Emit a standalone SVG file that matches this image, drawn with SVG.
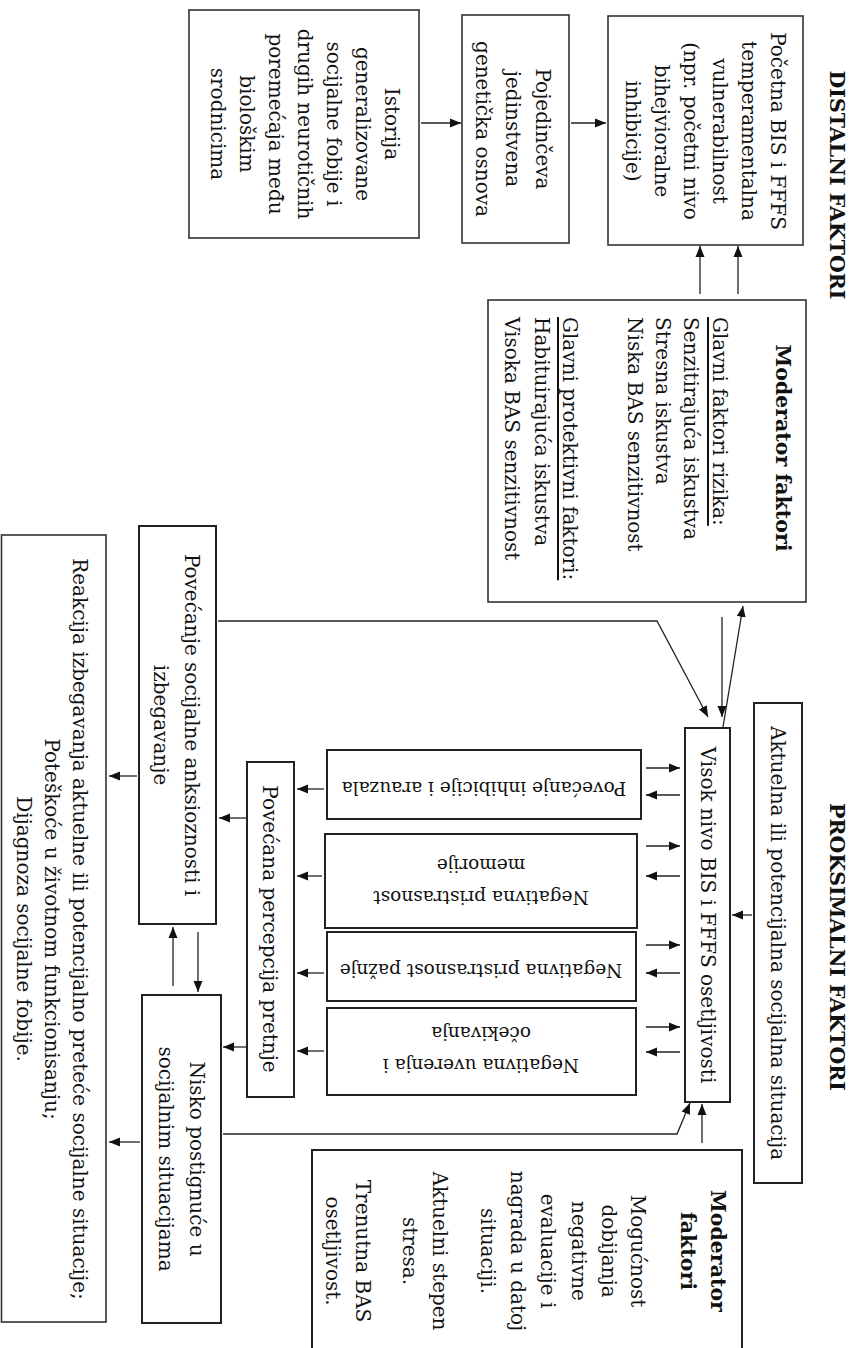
<svg xmlns="http://www.w3.org/2000/svg" width="858" height="1348" viewBox="0 0 858 1348">
<defs>
<marker id="ah" markerUnits="userSpaceOnUse" markerWidth="12" markerHeight="10" refX="11" refY="5" orient="auto">
<path d="M0,0.5 L11,5 L0,9.5 z" fill="#111"/>
</marker>
</defs>
<style>
.box{fill:#fff;stroke:#333;stroke-width:1.6}
.ibox{fill:#fff;stroke:#222;stroke-width:2}
.t{font-family:"DejaVu Serif",serif;font-size:20px;fill:#111;text-anchor:middle;dominant-baseline:central}
.ts{font-family:"DejaVu Serif",serif;font-size:20px;fill:#111;text-anchor:start;dominant-baseline:central}
.b{font-weight:bold;font-size:20.5px}
.ul{text-decoration:underline}
.u{font-family:"DejaVu Serif",serif;font-size:18.5px;fill:#111;text-anchor:middle;dominant-baseline:central}
.c{fill:none;stroke:#222;stroke-width:1.3;marker-end:url(#ah)}
</style>
<rect width="858" height="1348" fill="#fff"/>

<g id="title-distal">
<text class="t b" transform="translate(837,185) rotate(90)">DISTALNI FAKTORI</text>
</g>
<g id="title-proximal">
<text class="t b" transform="translate(837,947) rotate(90)">PROKSIMALNI FAKTORI</text>
</g>

<g id="istorija">
<rect class="box" x="189" y="10" width="230" height="228"/>
<text class="t" transform="translate(392,124) rotate(90)">Istorija</text>
<text class="t" transform="translate(363,124) rotate(90)">generalizovane</text>
<text class="t" transform="translate(334,124) rotate(90)">socijalne fobije i</text>
<text class="t" transform="translate(305,124) rotate(90)">drugih neurotičnih</text>
<text class="t" transform="translate(276,124) rotate(90)">poremećaja među</text>
<text class="t" transform="translate(247,124) rotate(90)">biološkim</text>
<text class="t" transform="translate(218,124) rotate(90)">srodnicima</text>
</g>

<g id="pojedinceva">
<rect class="box" x="462" y="15" width="107" height="228"/>
<text class="t" transform="translate(543,129) rotate(90)">Pojedinčeva</text>
<text class="t" transform="translate(513,129) rotate(90)">jedinstvena</text>
<text class="t" transform="translate(483,129) rotate(90)">genetička osnova</text>
</g>

<g id="pocetna">
<rect class="box" x="608" y="16" width="195" height="229"/>
<text class="t" transform="translate(778,131) rotate(90)">Početna BIS i FFFS</text>
<text class="t" transform="translate(749,131) rotate(90)">temperamentalna</text>
<text class="t" transform="translate(720,131) rotate(90)">vulnerabilnost</text>
<text class="t" transform="translate(691,131) rotate(90)">(npr. početni nivo</text>
<text class="t" transform="translate(662,131) rotate(90)">bihejvioralne</text>
<text class="t" transform="translate(633,131) rotate(90)">inhibicije)</text>
</g>

<g id="moderator-distal">
<rect class="box" x="488" y="300" width="318" height="302"/>
<text class="t b" transform="translate(783,448) rotate(90)">Moderator faktori</text>
<text class="ts ul" transform="translate(720,317) rotate(90)">Glavni faktori rizika:</text>
<text class="ts" transform="translate(691,317) rotate(90)">Senzitirajuća iskustva</text>
<text class="ts" transform="translate(663,317) rotate(90)">Stresna iskustva</text>
<text class="ts" transform="translate(635,317) rotate(90)">Niska BAS senzitivnost</text>
<text class="ts ul" transform="translate(570,317) rotate(90)">Glavni protektivni faktori:</text>
<text class="ts" transform="translate(542,317) rotate(90)">Habituirajuća iskustva</text>
<text class="ts" transform="translate(512,317) rotate(90)">Visoka BAS senzitivnost</text>
</g>

<g id="aktuelna">
<rect class="ibox" x="754" y="703" width="48" height="480"/>
<text class="t" transform="translate(778,943) rotate(90)">Aktuelna ili potencijalna socijalna situacija</text>
</g>

<g id="visok">
<rect class="ibox" x="685" y="728" width="45" height="374"/>
<text class="t" transform="translate(708,915) rotate(90)">Visok nivo BIS i FFFS osetljivosti</text>
</g>

<g id="moderator-proximal">
<rect class="ibox" x="312" y="1150" width="430" height="210"/>
<text class="t b" transform="translate(718,1251) rotate(90)">Moderator</text>
<text class="t b" transform="translate(688,1251) rotate(90)">faktori</text>
<text class="t" transform="translate(638,1251) rotate(90)">Mogućnost</text>
<text class="t" transform="translate(609,1251) rotate(90)">dobijanja</text>
<text class="t" transform="translate(579,1251) rotate(90)">negativne</text>
<text class="t" transform="translate(548,1251) rotate(90)">evaluacije i</text>
<text class="t" transform="translate(518,1251) rotate(90)">nagrada u datoj</text>
<text class="t" transform="translate(488,1251) rotate(90)">situaciji.</text>
<text class="t" transform="translate(440,1251) rotate(90)">Aktuelni stepen</text>
<text class="t" transform="translate(410,1251) rotate(90)">stresa.</text>
<text class="t" transform="translate(363,1251) rotate(90)">Trenutna BAS</text>
<text class="t" transform="translate(333,1251) rotate(90)">osetljivost.</text>
</g>

<g id="inhibicija">
<rect class="ibox" x="327" y="750" width="314" height="69"/>
<text class="u" transform="translate(484,788) rotate(180)">Povećanje inhibicije i arauzala</text>
</g>

<g id="memorija">
<rect class="ibox" x="325" y="834" width="312" height="94"/>
<text class="u" transform="translate(481,897) rotate(180)">Negativna pristrasnost</text>
<text class="u" transform="translate(481,865) rotate(180)">memorije</text>
</g>

<g id="paznja">
<rect class="ibox" x="327" y="932" width="309" height="69"/>
<text class="u" transform="translate(481,970) rotate(180)">Negativna pristrasnost pažnje</text>
</g>

<g id="uverenja">
<rect class="ibox" x="327" y="1008" width="309" height="87"/>
<text class="u" transform="translate(481,1065) rotate(180)">Negativna uverenja i</text>
<text class="u" transform="translate(481,1033) rotate(180)">očekivanja</text>
</g>

<g id="percepcija">
<rect class="ibox" x="247" y="762" width="47" height="335"/>
<text class="t" transform="translate(270,929) rotate(90)">Povećana percepcija pretnje</text>
</g>

<g id="anksioznost">
<rect class="ibox" x="139" y="526" width="77" height="398"/>
<text class="t" transform="translate(192,725) rotate(90)">Povećanje socijalne anksioznosti i</text>
<text class="t" transform="translate(161,725) rotate(90)">izbegavanje</text>
</g>

<g id="nisko">
<rect class="ibox" x="142" y="995" width="79" height="328"/>
<text class="t" transform="translate(197,1159) rotate(90)">Nisko postignuće u</text>
<text class="t" transform="translate(166,1159) rotate(90)">socijalnim situacijama</text>
</g>

<g id="reakcija">
<rect class="box" x="1.5" y="535" width="104.5" height="787"/>
<text class="t" transform="translate(80,929) rotate(90)">Reakcija izbegavanja aktuelne ili potencijalno preteće socijalne situacije;</text>
<text class="t" transform="translate(52,929) rotate(90)">Poteškoće u životnom funkcionisanju;</text>
<text class="t" transform="translate(24,929) rotate(90)">Dijagnoza socijalne fobije.</text>
</g>

<g id="connectors">
<path class="c" d="M421,123 H461"/>
<path class="c" d="M571,123 H606"/>
<path class="c" d="M700,294 V246"/>
<path class="c" d="M738,294 V246"/>
<path class="c" d="M722,617 V717"/>
<path class="c" d="M723,727 L743,606"/>
<path class="c" d="M218,621 H657 L708,717"/>
<path class="c" d="M223,1134 H677 L690,1103"/>
<path class="c" d="M752,915 H732"/>
<path class="c" d="M702,1143 V1104"/>
<path class="c" d="M646,768 H680"/>
<path class="c" d="M680,795 H646"/>
<path class="c" d="M646,846 H680"/>
<path class="c" d="M680,876 H646"/>
<path class="c" d="M646,945 H680"/>
<path class="c" d="M680,973 H646"/>
<path class="c" d="M646,1027 H680"/>
<path class="c" d="M680,1052 H646"/>
<path class="c" d="M324,789 H297"/>
<path class="c" d="M322,876 H297"/>
<path class="c" d="M324,973 H297"/>
<path class="c" d="M324,1051 H297"/>
<path class="c" d="M246,818 H219"/>
<path class="c" d="M246,1047 H223"/>
<path class="c" d="M173,986 V927"/>
<path class="c" d="M198,932 V992"/>
<path class="c" d="M137,776 H109"/>
<path class="c" d="M140,1142 H109"/>
</g>
</svg>
